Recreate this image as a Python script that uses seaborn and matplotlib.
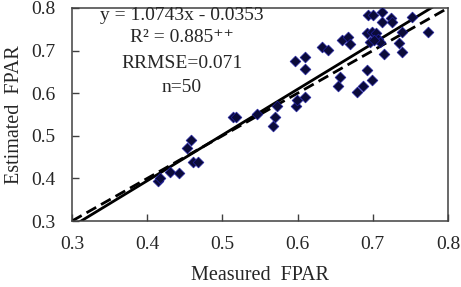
import matplotlib
matplotlib.use("Agg")
import matplotlib.pyplot as plt
import seaborn as sns
import numpy as np
import pandas as pd

measured = [0.414, 0.417, 0.430, 0.442, 0.453, 0.458, 0.461, 0.468, 0.514, 0.518,
            0.546, 0.570, 0.573, 0.567, 0.598, 0.599, 0.610, 0.597, 0.610, 0.610,
            0.632, 0.640, 0.656, 0.654, 0.659, 0.667, 0.670, 0.679, 0.687, 0.692,
            0.699, 0.694, 0.700, 0.712, 0.712, 0.724, 0.726, 0.752, 0.773, 0.739,
            0.735, 0.739, 0.715, 0.692, 0.699, 0.704, 0.696, 0.707, 0.710, 0.702]
estimated = [0.394, 0.401, 0.416, 0.413, 0.472, 0.491, 0.439, 0.439, 0.543, 0.543,
             0.552, 0.545, 0.569, 0.524, 0.571, 0.585, 0.590, 0.675, 0.684, 0.656,
             0.708, 0.701, 0.637, 0.616, 0.725, 0.732, 0.715, 0.602, 0.616, 0.654,
             0.630, 0.784, 0.784, 0.791, 0.767, 0.776, 0.767, 0.779, 0.743, 0.743,
             0.718, 0.696, 0.692, 0.741, 0.743, 0.741, 0.720, 0.727, 0.720, 0.725]
slope, intercept = 1.0743, -0.0353
ticks = [0.3, 0.4, 0.5, 0.6, 0.7, 0.8]
annot = ["y = 1.0743x - 0.0353", "R² = 0.885⁺⁺", "RRMSE=0.071", "n=50"]

sns.set_style("ticks")
plt.rcParams['font.family'] = ['Liberation Serif', 'DejaVu Serif']
plt.rcParams['xtick.direction'] = 'in'
plt.rcParams['ytick.direction'] = 'in'

fig = plt.figure(figsize=(4.61, 2.87), dpi=100)
ax = fig.add_axes([72/461, 1-221/287, 376/461, 213/287])

df = pd.DataFrame({"Measured": measured, "Estimated": estimated})
sns.scatterplot(data=df, x="Measured", y="Estimated", ax=ax, marker="D", s=30,
                color="#0b0b3a", edgecolor="#2020a0", linewidth=0.5, zorder=3)

xs = np.array([0.3, 0.8])
ax.plot(xs, slope*xs + intercept, color="black", lw=2.0, zorder=2)
ax.plot(xs, xs, color="black", lw=2.0, ls=(0, (4, 2)), zorder=2)

ax.set_xlim(0.3, 0.8)
ax.set_ylim(0.3, 0.8)
ax.set_xticks(ticks)
ax.set_yticks(ticks)
ax.set_xticklabels([f"{t:.1f}" for t in ticks], fontsize=14)
ax.set_yticklabels([f"{t:.1f}" for t in ticks], fontsize=14)
ax.tick_params(axis='both', length=5, width=1, color="#404040",
               top=False, right=False)
ax.tick_params(axis='x', pad=11)
ax.tick_params(axis='y', pad=12)
for sp in ax.spines.values():
    sp.set_visible(True)
    sp.set_color("#404040")
    sp.set_linewidth(1.1)

ax.set_xlabel("Measured  FPAR", fontsize=14.5, labelpad=9)
ax.set_ylabel("Estimated  FPAR", fontsize=14.5, labelpad=5)

ypix = [15, 38, 63, 87]
for t, yp in zip(annot, ypix):
    fig.text(182/461, 1-yp/287, t, ha='center', va='center', fontsize=14)

fig.savefig("out.png", dpi=100)
